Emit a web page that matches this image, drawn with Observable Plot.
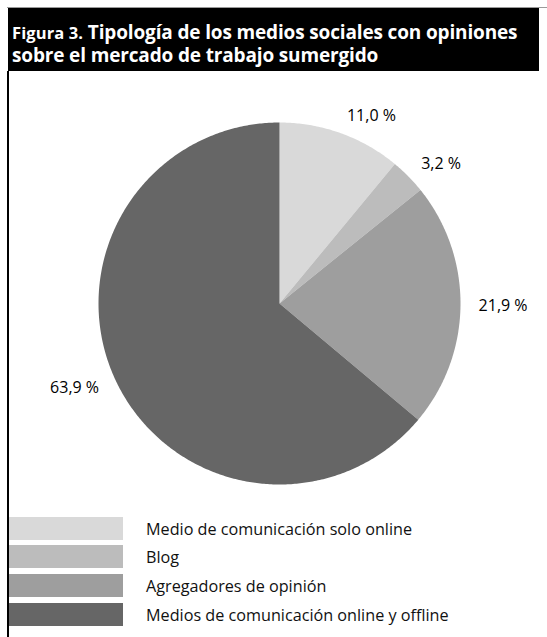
<!DOCTYPE html>
<html><head><meta charset="utf-8">
<script src="https://cdn.jsdelivr.net/npm/d3@7"></script>
<script src="https://cdn.jsdelivr.net/npm/@observablehq/plot@0.6"></script>
<style>
html,body{margin:0;padding:0;background:#fff;}
#wrap{position:relative;width:547px;height:637px;overflow:hidden;font-family:"Open Sans",sans-serif;}
#topline{position:absolute;left:7px;top:7px;width:540px;height:1px;background:#9a9a9a;}
#title{position:absolute;left:8px;top:8px;width:531px;height:63px;background:#000;color:#fff;box-sizing:border-box;padding:13px 0 0 4px;font-weight:700;font-size:19px;line-height:22px;letter-spacing:-0.15px;}
#title .fig{font-size:16.5px;font-weight:700;letter-spacing:0.1px;}
#leftline{position:absolute;left:7px;top:71px;width:2px;height:566px;background:#000;}
#chart{position:absolute;left:0;top:83px;}
.sw{position:absolute;left:9px;width:114px;height:23px;}
.lt{position:absolute;left:146px;font-size:16.2px;color:#111;line-height:23px;}
</style></head>
<body><div id="wrap">
<div id="topline"></div>
<div id="title"><span class="fig">Figura 3.</span> Tipología de los medios sociales con opiniones<br>sobre el mercado de trabajo sumergido</div>
<div id="leftline"></div>
<div id="chart"></div>
<div id="legend"></div>
</div>
<script>
const categories = ["Medio de comunicación solo online","Blog","Agregadores de opinión","Medios de comunicación online y offline"];
const values = [11.0, 3.2, 21.9, 63.9];
const labels = ["11,0 %","3,2 %","21,9 %","63,9 %"];
const colors = ["#d9d9d9","#bcbcbc","#9e9e9e","#666666"];

const total = d3.sum(values);
let acc = 0;
const slices = values.map((v,i)=>{const a0=acc/total*2*Math.PI; acc+=v; const a1=acc/total*2*Math.PI; return {cat:categories[i],a0,a1,label:labels[i]};});
const pts = [];
for (const s of slices) {
  pts.push({cat:s.cat,x:0,y:0});
  const n = Math.max(8, Math.ceil((s.a1-s.a0)/0.01));
  for (let k=0;k<=n;k++){const a=s.a0+(s.a1-s.a0)*k/n; pts.push({cat:s.cat,x:Math.sin(a),y:Math.cos(a)});}
  pts.push({cat:s.cat,x:0,y:0});
}
const lab = slices.map(s=>{const m=(s.a0+s.a1)/2; const r=1.1; return {x:r*Math.sin(m), y:r*Math.cos(m), t:s.label, anchor: Math.sin(m)>=0?"start":"end"};});

const R = 181, W = 547, H = 440, cx = 279, cy = 220;
const chart = Plot.plot({
  width: W, height: H, margin: 0,
  style:{overflow:"visible", fontFamily:"Open Sans, sans-serif"},
  x:{domain:[-cx/R,(W-cx)/R], axis:null},
  y:{domain:[-(H-cy)/R, cy/R], axis:null},
  color:{domain:categories, range:colors},
  marks:[
    Plot.line(pts,{x:"x",y:"y",z:"cat",fill:"cat",stroke:null,curve:"linear"}),
    Plot.text(lab.filter(d=>d.anchor==="start"),{x:"x",y:"y",text:"t",fontSize:16,fill:"#000",textAnchor:"start"}),
    Plot.text(lab.filter(d=>d.anchor==="end"),{x:"x",y:"y",text:"t",fontSize:16,fill:"#000",textAnchor:"end"})
  ]
});
document.getElementById("chart").appendChild(chart);

const leg = document.getElementById("legend");
const tops = [517,545,574,603];
categories.forEach((c,i)=>{
  const s=document.createElement("div"); s.className="sw"; s.style.top=tops[i]+"px"; s.style.background=colors[i]; leg.appendChild(s);
  const t=document.createElement("div"); t.className="lt"; t.style.top=(tops[i]+1)+"px"; t.textContent=c; leg.appendChild(t);
});
</script>
</body></html>
